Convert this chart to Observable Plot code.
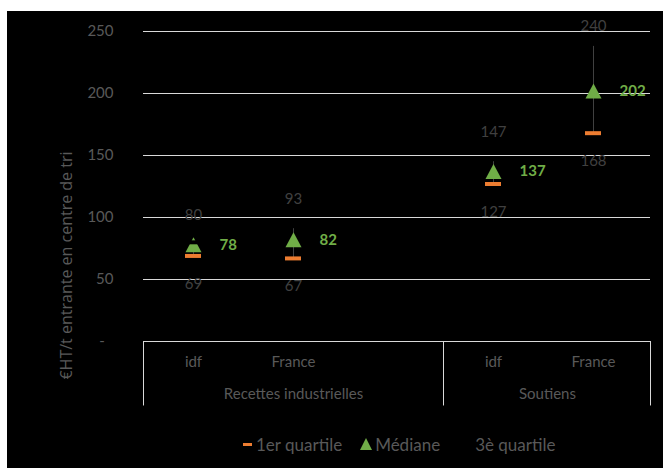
<!DOCTYPE html>
<html><head><meta charset="utf-8">
<script src="https://cdn.jsdelivr.net/npm/d3@7"></script>
<script src="https://cdn.jsdelivr.net/npm/@observablehq/plot@0.6"></script>
<style>
html,body{margin:0;padding:0;background:#fff;width:663px;height:468px;overflow:hidden}
#bg{position:absolute;left:7px;top:11px;width:656px;height:457px;background:#000}
#chart{position:absolute;left:0;top:0}
#legend{position:absolute;top:433px;left:243px;height:22px;display:flex;align-items:center;font-family:Lato,sans-serif;font-size:17px;color:#595959;white-space:nowrap}
#legend .dash{display:inline-block;width:9px;height:3px;margin-right:4px}
#legend .tri{display:inline-block;margin-right:3px}
</style></head><body>
<div id="bg"></div><div id="chart"></div>
<div id="legend">
  <span class="dash" style="background:#ED7D31"></span><span>1er quartile</span>
  <svg class="tri" width="12" height="12" style="margin-left:18px"><polygon points="6,0 12,12 0,12" fill="#70AD47"/></svg><span>Médiane</span>
  <span class="dash" style="background:#000;margin-left:22px"></span><span>3è quartile</span>
</div>
<script>
const categories = ["idf", "France", "idf", "France"];
const categoryGroups = ["Recettes industrielles", "Recettes industrielles", "Soutiens", "Soutiens"];
const groupNames = ["Recettes industrielles", "Soutiens"];
const q1 = [69, 67, 127, 168];
const median = [78, 82, 137, 202];
const q3 = [80, 93, 147, 240];
const yTicks = [0, 50, 100, 150, 200, 250];
const yLabel = "€HT/t entrante en centre de tri";

const rows = categories.map((c, i) => ({
  key: categoryGroups[i] + "|" + c,
  category: c,
  group: categoryGroups[i],
  q1: q1[i], median: median[i], q3: q3[i]
}));
// x domain: group 1 has an empty slot after its categories (as in the source)
const domain = [rows[0].key, rows[1].key, groupNames[0] + "|", rows[2].key, rows[3].key];

const triangle = {
  draw(ctx) {
    ctx.moveTo(0, -7.5);
    ctx.lineTo(8, 7.5);
    ctx.lineTo(-8, 7.5);
    ctx.closePath();
  }
};

const grid = "#d9d9d9";
const boxBottom = -52;      // depth of the category box below 0 (data units)
const q3LabelShift = 21.8;  // label above the 3rd quartile (data units)
const labelCeiling = 254;   // labels are kept inside the chart area

const chart = Plot.plot({
  width: 663,
  height: 420,
  marginLeft: 143,
  marginRight: 13,
  marginTop: 31,
  marginBottom: 79,
  style: {background: "transparent", color: "#595959", fontFamily: "Lato, sans-serif", overflow: "visible"},
  x: {type: "band", domain, range: [143, 643], padding: 0, axis: null},
  y: {domain: [0, 250], range: [341, 31], axis: null},
  marks: [
    Plot.ruleY(yTicks, {stroke: grid, strokeWidth: 1}),
    Plot.axisY({ticks: yTicks, tickSize: 0, tickPadding: 30, fontSize: 15, fill: "#595959",
      tickFormat: d => d === 0 ? "-\u2007" : String(d), label: null}),
    // category box
    Plot.ruleX([domain[0], domain[3]], {x: d => d, dx: -50, y1: 0, y2: boxBottom, stroke: grid}),
    Plot.ruleX([domain[4]], {x: d => d, dx: 57, y1: 0, y2: boxBottom, stroke: grid}),
    Plot.text(rows, {x: "key", text: "category", frameAnchor: "bottom", lineAnchor: "middle", dy: 21, fontSize: 15, fill: "#595959"}),
    Plot.text([groupNames[0]], {x: () => rows[1].key, text: d => d, frameAnchor: "bottom", lineAnchor: "middle", dy: 53, fontSize: 15, fill: "#595959"}),
    Plot.text([groupNames[1]], {x: () => rows[2].key, dx: 54, text: d => d, frameAnchor: "bottom", lineAnchor: "middle", dy: 53, fontSize: 15, fill: "#595959"}),
    // y label
    Plot.text([yLabel], {frameAnchor: "left", textAnchor: "middle", dx: -77, dy: 79, rotate: -90, text: d => d,
      fontFamily: "Open Sans, sans-serif", fontSize: 16, fill: "#595959"}),
    // quartile range line
    Plot.ruleX(rows, {x: "key", y1: "q1", y2: "q3", stroke: "#404040", strokeWidth: 1}),
    // 1st quartile dash
    Plot.tickY(rows, {x: "key", y: "q1", stroke: "#ED7D31", strokeWidth: 4, insetLeft: 42, insetRight: 42}),
    // median triangle
    Plot.dot(rows, {x: "key", y: "median", symbol: triangle, fill: "#70AD47", stroke: "none"}),
    // 3rd quartile dash (black, as in the source)
    Plot.tickY(rows, {x: "key", y: "q3", stroke: "#000", strokeWidth: 4, insetLeft: 42, insetRight: 42}),
    // labels
    Plot.text(rows, {x: "key", y: "q1", text: d => String(d.q1), dy: 28, fontSize: 15, fill: "#404040"}),
    Plot.text(rows, {x: "key", y: d => Math.min(d.q3 + q3LabelShift, labelCeiling), text: d => String(d.q3), fontSize: 15, fill: "#404040"}),
    Plot.text(rows, {x: "key", y: "median", text: d => String(d.median), dx: 26, textAnchor: "start",
      fontSize: 15, fontWeight: "bold", fill: "#70AD47"})
  ]
});
document.getElementById("chart").appendChild(chart);
</script>
</body></html>
